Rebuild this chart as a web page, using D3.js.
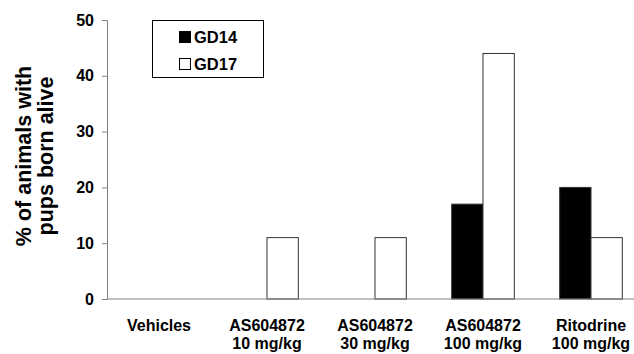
<!DOCTYPE html>
<html><head><meta charset="utf-8">
<script src="https://cdn.jsdelivr.net/npm/d3@7"></script>
<style>body{margin:0;background:#fff}svg{display:block}svg text{font-family:"Liberation Sans",Arial,sans-serif !important;font-weight:700 !important}</style>
</head><body><svg id="c" width="634" height="354"></svg>
<script>
const categories = [["Vehicles"],["AS604872","10 mg/kg"],["AS604872","30 mg/kg"],["AS604872","100 mg/kg"],["Ritodrine","100 mg/kg"]];
const seriesNames = ["GD14","GD17"];
const gd14 = [0,0,0,17,20];
const gd17 = [0,11,11,44,11];
const yTicks = [0,10,20,30,40,50];

const svg = d3.select("#c");
const x = d3.scaleBand().domain(d3.range(categories.length)).range([105,645]).paddingInner(0.42).paddingOuter(0.21);
const y = d3.scaleLinear().domain([0,50]).range([299,20]);
const colors = ["#000","#fff"];
const x1 = d3.scaleBand().domain([0,1]).range([0,x.bandwidth()]);

const series = [gd14, gd17];
series.forEach((vals,si)=>{
  svg.append("g").selectAll("rect").data(vals).join("rect")
    .attr("x",(d,i)=>x(i)+x1(si))
    .attr("width",x1.bandwidth())
    .attr("y",d=>y(d))
    .attr("height",d=>y(0)-y(d))
    .attr("fill",colors[si])
    .attr("stroke",d=>d>0?"#333":"none")
    .attr("stroke-width",1);
});

// y axis
const ya = svg.append("g").attr("transform","translate(107,0)")
  .call(d3.axisLeft(y).tickValues(yTicks).tickSize(5).tickPadding(8));
ya.select(".domain").attr("stroke","#808080");
ya.selectAll(".tick line").attr("stroke","#808080");
ya.selectAll("text").style("font-size","16px").attr("fill","#000");

// x axis line
svg.append("line").attr("x1",107).attr("x2",634).attr("y1",y(0)).attr("y2",y(0)).attr("stroke","#808080").attr("stroke-width",1.2);

// x labels
categories.forEach((lines,i)=>{
  const t = svg.append("text").attr("text-anchor","middle").style("font-size","16px").attr("fill","#000");
  lines.forEach((l,j)=>{
    t.append("tspan").attr("x",x(i)+x.bandwidth()/2).attr("y",331+j*18).text(l);
  });
});

// y label
const yl = svg.append("text").attr("transform","translate(0,156) rotate(-90)").attr("text-anchor","middle").style("font-size","21.5px").attr("fill","#000");
yl.append("tspan").attr("x",0).attr("y",31).text("% of animals with");
yl.append("tspan").attr("x",0).attr("y",53).text("pups born alive");

// legend
const lg = svg.append("g");
lg.append("rect").attr("x",152.5).attr("y",20.5).attr("width",111).attr("height",57).attr("fill","#fff").attr("stroke","#000");
seriesNames.forEach((n,i)=>{
  lg.append("rect").attr("x",179.5).attr("y",31.5+i*27).attr("width",11).attr("height",11).attr("fill",colors[i]).attr("stroke","#000");
  lg.append("text").attr("x",194).attr("y",42.5+i*27).style("font-size","16.5px").attr("fill","#000").text(n);
});
</script></body></html>
